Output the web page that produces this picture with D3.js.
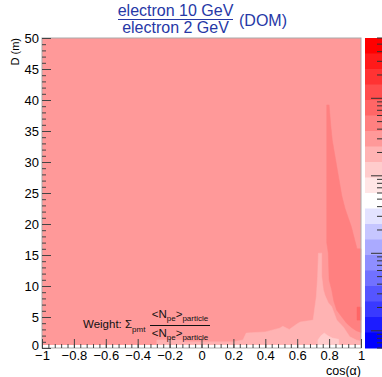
<!DOCTYPE html>
<html>
<head>
<meta charset="utf-8">
<script src="https://cdn.jsdelivr.net/npm/d3@7"></script>
<style>
  body { margin: 0; background: #fff; }
  text { font-family: "Liberation Sans", Arial, Helvetica, sans-serif; }
</style>
</head>
<body>
<div id="chart"></div>
<script>
const WIDTH = 382;
const HEIGHT = 377;
const FRAME = { left: 42, right: 361, top: 38, bottom: 348 };

// ratio <Npe> electron 10 GeV / electron 2 GeV in each contour region
const backgroundRatio = 3.0;
const darkRatio = 4.8;
const lightRatio = 2.0;
const lightestRatio = 1.2;
const darkestRatio = 7.5;

// colour axis (log) and number of contours
const zRange = [0.006, 60];
const nContours = 20;

// region outlines, [cos(alpha), D (m)]
const darkRegion = [
  [0.785, 39.2], [0.80, 39.2], [0.81, 36], [0.82, 33.5], [0.84, 30.5],
  [0.86, 27.5], [0.88, 24.5], [0.90, 22.5], [0.92, 21], [0.94, 19.5],
  [0.96, 17.5], [0.975, 16], [1.0, 16], [1.0, 2.5], [0.97, 2.8],
  [0.94, 3.3], [0.91, 4.0], [0.88, 5.0], [0.848, 6.1], [0.83, 7.5],
  [0.816, 9.4], [0.80, 11], [0.795, 15.3], [0.785, 17]
];
const lightRegion = [
  [-0.28, 0.5], [-0.28, 1.3], [-0.12, 1.3], [-0.10, 1.0], [0.20, 1.0],
  [0.26, 1.3], [0.28, 2.4], [0.40, 2.6], [0.49, 3.2], [0.51, 3.5],
  [0.55, 3.0], [0.60, 3.9], [0.62, 4.2], [0.70, 4.5], [0.72, 8.3],
  [0.728, 11.5], [0.733, 15.3], [0.754, 15.3], [0.754, 11.5], [0.764, 9.4],
  [0.774, 8.5], [0.795, 7.3], [0.816, 6.7], [0.848, 4.5], [0.889, 3.4],
  [0.93, 1.8], [0.97, 1.3], [1.0, 1.1], [1.0, 0.5]
];
const lightestRegion = [
  [0.73, 0.5], [0.73, 1.3], [0.75, 2.0], [0.77, 2.4], [0.79, 2.0],
  [0.82, 1.6], [0.86, 1.4], [0.86, 0.5]
];
const darkestRegion = [
  [0.975, 4.5], [0.975, 6.6], [1.0, 6.6], [1.0, 4.5]
];
const emptyRow = [[-1, 0], [-1, 0.5], [1, 0.5], [1, 0]];

const xTicks = [-1, -0.8, -0.6, -0.4, -0.2, 0, 0.2, 0.4, 0.6, 0.8, 1];
const xMinorTicks = d3.range(51).map(i => -1 + i * 0.04);
const yTicks = [0, 5, 10, 15, 20, 25, 30, 35, 40, 45, 50];
const yMinorTicks = d3.range(51);

const x = d3.scaleLinear().domain([-1, 1]).range([FRAME.left, FRAME.right]);
const y = d3.scaleLinear().domain([0, 50]).range([FRAME.bottom, FRAME.top]);
const z = d3.scaleLog().domain(zRange).range([FRAME.bottom, FRAME.top]);

const palette = d3.range(nContours).map(k =>
  k <= 10
    ? d3.interpolateRgb("#ff0000", "#ffffff")(k / 10)
    : d3.interpolateRgb("#ffffff", "#0000ff")((k - 10) / 9)
);
const logTop = Math.log10(zRange[1]);
const logStep = (logTop - Math.log10(zRange[0])) / nContours;
const contourColor = v => {
  const k = Math.floor((logTop - Math.log10(v)) / logStep);
  return palette[Math.max(0, Math.min(nContours - 1, k))];
};

const svg = d3
  .select("#chart")
  .append("svg")
  .attr("width", WIDTH)
  .attr("height", HEIGHT);

const outline = d3
  .line()
  .x(d => x(d[0]))
  .y(d => y(d[1]))
  .curve(d3.curveLinearClosed);

// Draw contour regions
svg
  .append("rect")
  .attr("x", x(-1))
  .attr("y", y(50))
  .attr("width", x(1) - x(-1))
  .attr("height", y(0) - y(50))
  .style("fill", contourColor(backgroundRatio));

const regions = [
  { pts: darkRegion, v: darkRatio },
  { pts: lightRegion, v: lightRatio },
  { pts: lightestRegion, v: lightestRatio },
  { pts: darkestRegion, v: darkestRatio }
];
svg
  .append("g")
  .selectAll("path")
  .data(regions)
  .enter()
  .append("path")
  .attr("d", d => outline(d.pts))
  .style("fill", d => contourColor(d.v))
  .style("stroke", d => contourColor(d.v))
  .style("stroke-width", 0.5);

svg
  .append("path")
  .attr("d", outline(emptyRow))
  .style("fill", "#fff");

// Frame
svg
  .append("rect")
  .attr("x", FRAME.left)
  .attr("y", FRAME.top)
  .attr("width", FRAME.right - FRAME.left)
  .attr("height", FRAME.bottom - FRAME.top)
  .style("fill", "none")
  .style("stroke", "#aaa")
  .style("stroke-width", 1);

// Axes
const fmt = d3.format("~g");
const styleAxis = g => {
  g.select(".domain").remove();
  g.selectAll("line").style("stroke", "#444");
  g.selectAll("text")
    .style("font-family", '"Liberation Sans", Arial, sans-serif')
    .style("font-size", "13px")
    .style("fill", "#000");
};

svg
  .append("g")
  .attr("transform", `translate(0, ${FRAME.bottom})`)
  .call(d3.axisBottom(x).tickValues(xMinorTicks).tickSize(-4).tickFormat(""))
  .call(styleAxis);
svg
  .append("g")
  .attr("transform", `translate(0, ${FRAME.bottom})`)
  .call(d3.axisBottom(x).tickValues(xTicks).tickSize(-9).tickPadding(3).tickFormat(fmt))
  .call(styleAxis);

svg
  .append("g")
  .attr("transform", `translate(${FRAME.left}, 0)`)
  .call(d3.axisLeft(y).tickValues(yMinorTicks).tickSize(-4).tickFormat(""))
  .call(styleAxis);
svg
  .append("g")
  .attr("transform", `translate(${FRAME.left}, 0)`)
  .call(d3.axisLeft(y).tickValues(yTicks).tickSize(-9).tickPadding(3).tickFormat(fmt))
  .call(g => g.selectAll(".tick").filter(d => d === 0).select("text").attr("dy", "0.1em"))
  .call(styleAxis);

// Axis titles
svg
  .append("text")
  .attr("x", FRAME.right)
  .attr("y", 375)
  .attr("text-anchor", "end")
  .style("font-size", "12.5px")
  .text("cos(α)");

svg
  .append("text")
  .attr("transform", `translate(19, ${FRAME.top}) rotate(-90)`)
  .attr("text-anchor", "end")
  .style("font-size", "11px")
  .text("D (m)");

// Palette
const bands = d3.range(nContours).map(k => ({
  hi: zRange[1] / Math.pow(10, k * logStep),
  lo: zRange[1] / Math.pow(10, (k + 1) * logStep),
  color: palette[k]
}));
const barX = 365;
const barRight = 383;
svg
  .append("g")
  .selectAll("rect")
  .data(bands)
  .enter()
  .append("rect")
  .attr("x", barX)
  .attr("y", d => z(d.hi))
  .attr("width", barRight - barX)
  .attr("height", d => z(d.lo) - z(d.hi) + 0.5)
  .style("fill", d => d.color);

const zTicks = z.ticks();
svg
  .append("g")
  .selectAll("line")
  .data(zTicks)
  .enter()
  .append("line")
  .attr("x1", barRight)
  .attr("x2", d => (Math.abs(Math.log10(d) % 1) < 1e-6 ? barRight - 12 : barRight - 6))
  .attr("y1", d => z(d))
  .attr("y2", d => z(d))
  .style("stroke", "#333")
  .style("stroke-width", 1);

// Title
const titleColor = "#2638a6";
const title = svg.append("g").style("fill", titleColor).style("font-size", "16px");
title.append("text").attr("x", 175.5).attr("y", 16).attr("text-anchor", "middle").text("electron 10 GeV");
title.append("text").attr("x", 175.5).attr("y", 33).attr("text-anchor", "middle").text("electron 2 GeV");
title
  .append("line")
  .attr("x1", 118)
  .attr("x2", 233)
  .attr("y1", 19.5)
  .attr("y2", 19.5)
  .style("stroke", titleColor)
  .style("stroke-width", 1.2);
title.append("text").attr("x", 239).attr("y", 26).text("(DOM)");

// Weight label
const weight = svg.append("g").style("fill", "#111");
const wt = weight.append("text").attr("x", 83).attr("y", 328).style("font-size", "11.5px");
wt.append("tspan").text("Weight: Σ");
wt.append("tspan").attr("dy", 3.5).style("font-size", "8px").text("pmt");

const fracCx = 180;
[318, 337].forEach(by => {
  const t = weight
    .append("text")
    .attr("x", fracCx)
    .attr("y", by)
    .attr("text-anchor", "middle")
    .style("font-size", "11.5px");
  t.append("tspan").text("<N");
  t.append("tspan").attr("dy", 3).style("font-size", "8px").text("pe");
  t.append("tspan").attr("dy", -3).text(">");
  t.append("tspan").attr("dy", 3).style("font-size", "8px").text("particle");
});
weight
  .append("line")
  .attr("x1", 150)
  .attr("x2", 210)
  .attr("y1", 325.5)
  .attr("y2", 325.5)
  .style("stroke", "#111")
  .style("stroke-width", 1);
</script>
</body>
</html>
